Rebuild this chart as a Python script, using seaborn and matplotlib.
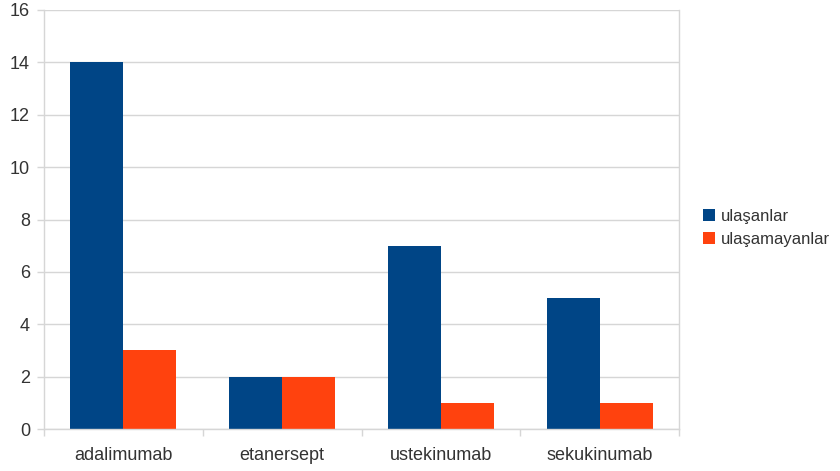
import matplotlib
matplotlib.use("Agg")
import matplotlib.pyplot as plt
import seaborn as sns
import pandas as pd
from matplotlib.patches import Patch

drugs = ["adalimumab", "etanersept", "ustekinumab", "sekukinumab"]
series_names = ["ulaşanlar", "ulaşamayanlar"]
reached = [14, 2, 7, 5]
not_reached = [3, 2, 1, 1]
y_ticks = [0, 2, 4, 6, 8, 10, 12, 14, 16]
colors = ["#004586", "#ff420e"]

df = pd.DataFrame({
    "drug": drugs * 2,
    "group": [series_names[0]] * len(drugs) + [series_names[1]] * len(drugs),
    "count": reached + not_reached,
})

sns.set_theme(style="white")
plt.rcParams["font.family"] = ["Liberation Sans", "DejaVu Sans"]

fig = plt.figure(figsize=(8.4, 4.71), dpi=100)
ax = fig.add_axes([44 / 840, 1 - 429 / 471, (679 - 44) / 840, (429 - 10) / 471])

sns.barplot(data=df, x="drug", y="count", hue="group", order=drugs,
            hue_order=series_names, palette=colors, width=2 / 3, gap=0,
            saturation=1, linewidth=0, legend=False, ax=ax)

ax.set_xlim(-0.5, len(drugs) - 0.5)
ax.set_ylim(0, 16)
ax.set_yticks(y_ticks)
ax.set_xlabel("")
ax.set_ylabel("")

grid_color = "#d6d6d6"
ax.yaxis.grid(True, color=grid_color, linewidth=1)
ax.set_axisbelow(True)
for side in ["top", "right", "left", "bottom"]:
    ax.spines[side].set_visible(True)
    ax.spines[side].set_color(grid_color)
    ax.spines[side].set_linewidth(1)
ax.spines["top"].set_visible(False)

text_color = "#333333"
ax.tick_params(axis="y", which="major", length=5, width=1, color=grid_color,
               labelsize=13, labelcolor=text_color, pad=5, left=True)
ax.tick_params(axis="x", which="major", length=0, labelsize=13,
               labelcolor=text_color, pad=13)
ax.set_xticks([i + 0.5 for i in range(-1, len(drugs))], minor=True)
ax.tick_params(axis="x", which="minor", length=5, width=1, color=grid_color,
               bottom=True)

handles = [Patch(facecolor=c, edgecolor="none") for c in colors]
fig.legend(handles, series_names, loc="center left",
           bbox_to_anchor=(703 / 840, 1 - 228 / 471), frameon=False,
           borderaxespad=0, borderpad=0,
           fontsize=12, handlelength=0.7, handleheight=0.7,
           handletextpad=0.35, labelspacing=0.5, labelcolor=text_color)

fig.savefig("out.png", dpi=100, facecolor="white")
